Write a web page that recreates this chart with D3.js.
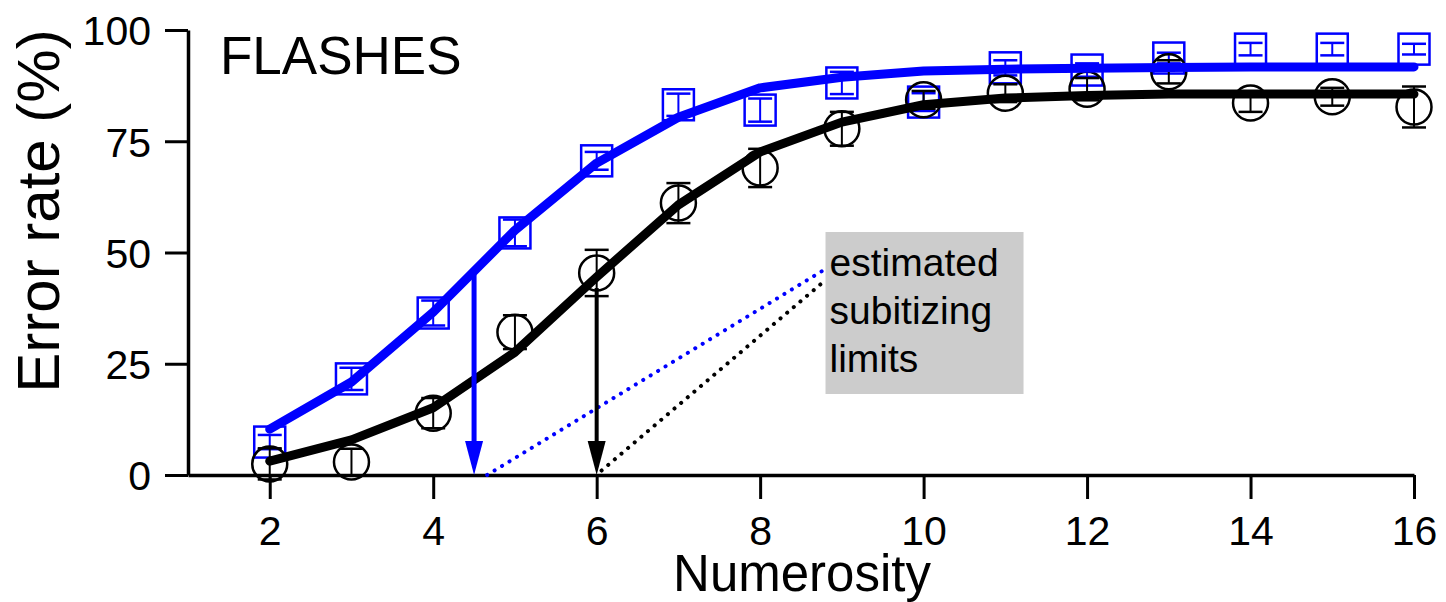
<!DOCTYPE html>
<html><head><meta charset="utf-8">
<script src="https://cdn.jsdelivr.net/npm/d3@7"></script>
<style>body{margin:0;background:#fff}svg{display:block}text{font-family:"Liberation Sans",Arial,sans-serif}</style>
</head><body>
<script>
// Data
const numerosity = [2,3,4,5,6,7,8,9,10,11,12,13,14,15,16];
const blueData = [7.4,21.6,36.4,54.4,70.6,83.2,82.0,88.1,83.8,91.5,91.0,93.7,95.7,95.7,95.7];
const blueErr  = [1.6,2.5,2.8,3.0,2.0,2.5,2.6,2.5,2.0,1.7,1.5,1.2,1.4,1.4,1.2];
const blueFit  = [10.3,20.9,36.6,55.0,70.1,80.4,87.0,89.4,90.8,91.2,91.4,91.6,91.7,91.7,91.7];
const blackData = [2.5,2.9,13.9,32.1,45.4,61.1,69.0,77.8,84.3,85.8,86.7,90.6,83.6,85.0,82.7];
const blackErr  = [3.5,3.0,3.4,3.8,5.2,4.5,4.3,3.8,2.0,2.0,2.5,2.6,2.0,2.0,4.6];
const blackFit  = [3.1,7.9,15.1,27.6,44.5,60.7,72.6,79.3,83.2,84.7,85.3,85.6,85.6,85.6,85.6];
const xTicks = [2,4,6,8,10,12,14,16];
const yTicks = [0,25,50,75,100];
const limits = [{x:4.5, top:45, color:"#0000ff", dotFrom:[4.66,0], dotTo:[8.8,46.3]},
                {x:6.0, top:42, color:"#000000", dotFrom:[6.06,1.0], dotTo:[8.8,43.8]}];
const annotation = ["estimated","subitizing","limits"];

const W=1446,H=602;
const svg=d3.select("body").append("svg").attr("width",W).attr("height",H);
const x=d3.scaleLinear().domain([1,16]).range([188,1414]);
const y=d3.scaleLinear().domain([0,100]).range([475,30]);

// axes
const xAxis=svg.append("g").attr("transform","translate(0,475)")
  .call(d3.axisBottom(x).tickValues(xTicks).tickSize(24).tickPadding(15).tickSizeOuter(0));
const yAxis=svg.append("g").attr("transform","translate(188,0)")
  .call(d3.axisLeft(y).tickValues(yTicks).tickSize(23).tickPadding(14).tickSizeOuter(0));
[xAxis,yAxis].forEach(g=>{
  g.select(".domain").attr("stroke","#000").attr("stroke-width",3.5);
  g.selectAll(".tick line").attr("stroke","#000").attr("stroke-width",3);
  g.selectAll(".tick text").attr("fill","#000").style("font-size","41px");
});
xAxis.selectAll(".tick text").attr("dy","0.75em");
yAxis.selectAll(".tick text").attr("dy","0.36em");

// labels
svg.append("text").attr("x",802).attr("y",591).attr("text-anchor","middle").style("font-size","51px").text("Numerosity");
svg.append("text").attr("transform","translate(59,211) rotate(-90)").attr("text-anchor","middle").style("font-size","60px").text("Error rate (%)");
svg.append("text").attr("x",220).attr("y",74).style("font-size","53px").text("FLASHES");

// annotation box
const bx=x(8.8);
svg.append("rect").attr("x",bx).attr("y",232).attr("width",198).attr("height",162).attr("fill","#cccccc");
svg.append("g").selectAll("text").data(annotation).join("text")
  .attr("x",bx+4).attr("y",(d,i)=>276+i*48).style("font-size","39px").text(d=>d);

// dotted lines
svg.append("g").selectAll("line").data(limits).join("line")
  .attr("x1",d=>x(d.dotFrom[0])).attr("y1",d=>y(d.dotFrom[1]))
  .attr("x2",d=>x(d.dotTo[0])).attr("y2",d=>y(d.dotTo[1]))
  .attr("stroke",d=>d.color).attr("stroke-width",4).attr("stroke-linecap","round")
  .attr("stroke-dasharray","0.1 8.6");

function series(data,err,color,shape){
  const g=svg.append("g");
  const rows=numerosity.map((n,i)=>({n,v:data[i],e:err[i]}));
  const cw = 12;
  g.selectAll(".eb").data(rows).join("line").attr("x1",d=>x(d.n)).attr("x2",d=>x(d.n))
    .attr("y1",d=>y(d.v-d.e)).attr("y2",d=>y(d.v+d.e)).attr("stroke",color).attr("stroke-width",2);
  g.selectAll(".ct").data(rows).join("line").attr("x1",d=>x(d.n)-cw).attr("x2",d=>x(d.n)+cw)
    .attr("y1",d=>y(d.v+d.e)).attr("y2",d=>y(d.v+d.e)).attr("stroke",color).attr("stroke-width",2.5);
  g.selectAll(".cb").data(rows).join("line").attr("x1",d=>x(d.n)-cw).attr("x2",d=>x(d.n)+cw)
    .attr("y1",d=>y(d.v-d.e)).attr("y2",d=>y(d.v-d.e)).attr("stroke",color).attr("stroke-width",2.5);
  if(shape==="sq"){
    g.selectAll("rect").data(rows).join("rect").attr("x",d=>x(d.n)-15.5).attr("y",d=>y(d.v)-15.5)
      .attr("width",31).attr("height",31).attr("fill","none").attr("stroke",color).attr("stroke-width",2.5);
  } else {
    g.selectAll("circle").data(rows).join("circle").attr("cx",d=>x(d.n)).attr("cy",d=>y(d.v)).attr("r",17.5)
      .attr("fill","none").attr("stroke",color).attr("stroke-width",2.5);
  }
}
series(blueData,blueErr,"#0000ff","sq");
series(blackData,blackErr,"#000000","ci");

const line=d3.line().x((d,i)=>x(numerosity[i])).y(d=>y(d));
svg.append("path").attr("d",line(blackFit)).attr("fill","none").attr("stroke","#000").attr("stroke-width",9)
  .attr("stroke-linecap","round").attr("stroke-linejoin","round");
svg.append("path").attr("d",line(blueFit)).attr("fill","none").attr("stroke","#0000ff").attr("stroke-width",9)
  .attr("stroke-linecap","round").attr("stroke-linejoin","round");

// arrows
limits.forEach(d=>{
  const ax=x(d.x);
  svg.append("line").attr("x1",ax).attr("x2",ax).attr("y1",y(d.top)).attr("y2",y(0)-28)
    .attr("stroke",d.color).attr("stroke-width",d.color==="#0000ff"?5:4);
  svg.append("path").attr("d",`M${ax-9},${y(0)-34} L${ax+9},${y(0)-34} L${ax},${y(0)} Z`).attr("fill",d.color);
});
</script>
</body></html>
